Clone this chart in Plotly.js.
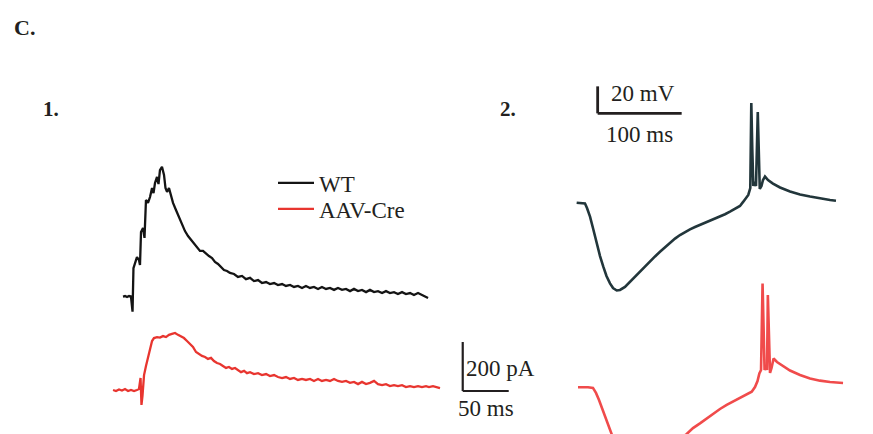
<!DOCTYPE html>
<html>
<head>
<meta charset="utf-8">
<script src="https://cdn.plot.ly/plotly-3.0.1.min.js"></script>
<style>html,body{margin:0;padding:0;background:#fff;}#chart{width:873px;height:434px;}</style>
</head>
<body>
<div id="chart"></div>
<script>
// ---------- Data ----------
// Panel 1: evoked currents, time in ms (0 = stimulus), current in pA (0 = baseline)
const wtCurrentT = [-10.9,-8.7,-6.5,-4.3,-2.2,-0.5,0.5,2.2,4.3,6.5,7.6,8.7,10.9,12.5,14.1,16.3,18.5,20.7,22.3,23.9,26.1,27.7,29.3,31.5,33.7,35.3,37.0,39.1,41.3,43.5,46.7,50.0,53.3,56.5,59.8,63.0,66.3,69.6,72.8,76.1,79.3,82.6,85.9,89.1,92.4,95.7,98.9,102.2,105.4,109.8,114.1,118.5,122.8,127.2,131.5,135.9,140.2,144.6,148.9,153.3,157.6,162.0,166.3,170.7,175.0,179.3,183.7,188.0,192.4,196.7,201.1,205.4,209.8,214.1,218.5,222.8,227.2,231.5,235.9,240.2,244.6,248.9,253.3,257.6,262.0,266.3,270.7,275.0,279.3,283.7,288.0,292.4,296.7,301.1,305.4,309.8,314.1,317.4,320.7];
const wtCurrentI = [2,4,0,4,2,-60,118,143,163,151,131,265,282,241,396,384,408,445,424,465,490,461,518,531,498,445,429,445,408,384,355,327,294,269,249,233,216,200,188,188,176,167,159,143,135,122,110,106,98,94,82,86,73,78,65,69,57,61,53,57,49,53,45,49,41,45,37,45,37,41,33,41,33,37,29,37,29,33,24,33,24,29,20,29,20,24,16,24,16,20,12,20,12,16,8,16,8,4,-4];

const creCurrentT = [-21.7,-18.5,-15.2,-12.0,-8.7,-5.4,-2.2,1.1,4.3,6.5,8.2,9.2,10.3,12.0,14.1,16.3,18.5,20.7,22.8,26.1,29.3,32.6,35.9,39.1,42.4,45.7,48.9,52.2,55.4,58.7,62.0,65.2,68.5,71.7,75.0,78.3,81.5,84.8,88.0,91.3,94.6,97.8,101.1,104.3,107.6,110.9,114.1,117.4,120.7,123.9,127.2,131.5,135.9,140.2,144.6,148.9,153.3,157.6,162.0,166.3,170.7,175.0,179.3,183.7,188.0,192.4,196.7,201.1,205.4,209.8,214.1,218.5,222.8,227.2,231.5,235.9,240.2,244.6,248.9,253.3,257.6,262.0,266.3,270.7,275.0,279.3,283.7,288.0,292.4,296.7,301.1,305.4,309.8,314.1,318.5,321.7,326.1,330.4,333.7];
const creCurrentI = [0,-4,2,-2,4,-4,0,-4,0,4,49,-61,-24,61,98,135,176,200,212,216,214,220,216,225,229,233,225,220,212,200,188,176,155,147,139,135,127,131,118,110,106,98,90,94,86,90,82,73,78,69,73,65,69,61,65,57,61,53,49,53,45,49,41,45,41,45,37,45,37,41,37,45,37,33,37,29,33,24,33,24,29,37,24,20,24,16,20,16,20,12,16,12,16,12,16,12,16,12,8];

// Panel 2: membrane potential, time in ms, voltage in mV
const wtVmT = [-0.4,4.8,9.5,11.9,15.5,19.0,23.5,27.4,31.3,35.1,39.3,42.9,47.3,51.2,57.1,63.1,69.0,75.0,81.0,86.9,92.9,98.8,104.8,110.7,116.7,122.6,128.6,134.5,140.5,146.4,152.4,158.3,164.3,170.2,176.2,182.1,190.1,194.0,198.0,201.2,203.9,206.3,207.5,208.7,209.9,211.3,213.1,215.2,216.4,217.6,219.6,221.4,223.8,227.4,233.3,241.7,253.6,265.5,277.4,289.3,301.2,308.3];
const wtVmV = [-59.8,-60.0,-60.4,-63.7,-70.1,-78.5,-89.9,-99.3,-107.2,-114.1,-119.5,-123.0,-124.8,-124.4,-122.2,-118.3,-114.4,-110.9,-107.2,-103.5,-99.6,-96.1,-92.6,-89.4,-86.4,-83.7,-81.5,-79.5,-77.8,-76.3,-74.7,-73.1,-71.6,-70.1,-68.3,-66.4,-63.9,-62.2,-59.0,-56.3,-54.0,-48.9,14.1,-20.7,-47.4,-44.4,-47.4,7.4,-28.1,-49.6,-47.4,-43.0,-40.4,-43.0,-45.6,-48.5,-51.5,-53.7,-55.2,-56.7,-57.8,-58.3];

const creVmT = [1.2,7.1,13.1,19.0,22.6,26.2,29.8,33.3,36.9,41.3,46.4,53.6,60.7,69.0,77.4,86.9,98.8,110.7,122.6,130.6,138.1,146.4,154.4,162.3,170.2,178.2,186.1,194.0,201.2,208.0,211.9,214.9,217.1,219.1,220.9,222.1,223.3,224.8,226.2,227.2,228.4,229.8,231.6,234.0,238.1,245.2,253.6,265.5,277.4,289.3,301.2,316.7];
const creVmV = [-60.2,-60.0,-60.2,-60.7,-64.4,-69.6,-75.6,-82.0,-88.1,-94.8,-103.7,-115.6,-124.4,-128.9,-128.1,-123.0,-114.8,-106.7,-98.5,-94.8,-90.4,-86.9,-83.2,-79.5,-76.3,-73.3,-70.7,-68.4,-65.9,-63.5,-60.0,-55.6,-49.9,-47.4,16.7,-17.8,-47.4,-44.4,-47.4,8.1,-25.2,-49.6,-45.9,-38.9,-41.5,-44.4,-47.8,-51.1,-53.7,-55.3,-56.3,-57.0];

const seriesNames = ["WT", "AAV-Cre"];
const scaleBar1 = {time: 50, current: 200, timeLabel: "50 ms", currentLabel: "200 pA"};
const scaleBar2 = {time: 100, voltage: 20, timeLabel: "100 ms", voltageLabel: "20 mV"};
const panelLabels = ["C.", "1.", "2."];

// ---------- Layout helpers ----------
const W = 873, H = 434;
const px = x => x / W;
const py = y => 1 - y / H;
const FONT = "Liberation Serif, Times New Roman, serif";
const INK = "#231f20";

const traces = [
  {x: wtCurrentT, y: wtCurrentI, xaxis: "x", yaxis: "y", type: "scatter", mode: "lines",
   name: seriesNames[0], legend: "legend", line: {color: "#141414", width: 2.3}, showlegend: true},
  {x: creCurrentT, y: creCurrentI, xaxis: "x", yaxis: "y3", type: "scatter", mode: "lines",
   name: seriesNames[1], legend: "legend2", line: {color: "#e8352f", width: 2.3}, showlegend: true},
  {x: wtVmT, y: wtVmV, xaxis: "x2", yaxis: "y2", type: "scatter", mode: "lines",
   name: seriesNames[0] + " Vm", line: {color: "#22363b", width: 2.6}, showlegend: false},
  {x: creVmT, y: creVmV, xaxis: "x2", yaxis: "y4", type: "scatter", mode: "lines",
   name: seriesNames[1] + " Vm", line: {color: "#f04b4b", width: 2.6}, showlegend: false}
];

const hidden = {visible: false, fixedrange: true, showgrid: false, zeroline: false};
// Corner positions of scale bars (data units)
const sb1 = {x: 358.4, y: -383.7};
const sb2 = {x: 24.6, y: 6.4};

const legendBase = {xanchor: "left", yanchor: "middle", bgcolor: "rgba(0,0,0,0)", borderwidth: 0,
                    itemwidth: 36, font: {family: FONT, size: 23, color: INK}};

const layout = {
  width: W, height: H,
  margin: {l: 0, r: 0, t: 0, b: 0},
  paper_bgcolor: "#ffffff", plot_bgcolor: "rgba(0,0,0,0)",
  font: {family: FONT, color: INK, size: 23},
  xaxis: Object.assign({domain: [0, 1], range: [-144.57, 804.35], anchor: "y"}, hidden),
  yaxis: Object.assign({domain: [0, 1], range: [-559.18, 1212.24], anchor: "x"}, hidden),
  yaxis3: Object.assign({domain: [0, 1], range: [-179.59, 1591.84], anchor: "x", overlaying: "y"}, hidden),
  xaxis2: Object.assign({domain: [0, 1], range: [-686.90, 352.38], anchor: "y2", overlaying: "x"}, hidden),
  yaxis2: Object.assign({domain: [0, 1], range: [-231.11, 90.37], anchor: "x2", overlaying: "y"}, hidden),
  yaxis4: Object.assign({domain: [0, 1], range: [-94.81, 226.67], anchor: "x2", overlaying: "y"}, hidden),
  showlegend: true,
  legend: Object.assign({x: px(273), y: py(183)}, legendBase),
  legend2: Object.assign({x: px(273), y: py(209)}, legendBase),
  shapes: [
    {type: "line", xref: "x", yref: "y", x0: sb1.x, x1: sb1.x, y0: sb1.y, y1: sb1.y + scaleBar1.current, line: {color: INK, width: 2.2}},
    {type: "line", xref: "x", yref: "y", x0: sb1.x, x1: sb1.x + scaleBar1.time, y0: sb1.y, y1: sb1.y, line: {color: INK, width: 2.2}},
    {type: "line", xref: "x2", yref: "y2", x0: sb2.x, x1: sb2.x, y0: sb2.y, y1: sb2.y + scaleBar2.voltage, line: {color: INK, width: 2.8}},
    {type: "line", xref: "x2", yref: "y2", x0: sb2.x, x1: sb2.x + scaleBar2.time, y0: sb2.y, y1: sb2.y, line: {color: INK, width: 2.8}}
  ],
  annotations: [
    {text: "<b>" + panelLabels[0] + "</b>", xref: "paper", yref: "paper", x: px(12), y: py(27), xanchor: "left", yanchor: "middle", showarrow: false, font: {size: 22}},
    {text: "<b>" + panelLabels[1] + "</b>", xref: "paper", yref: "paper", x: px(41), y: py(109), xanchor: "left", yanchor: "middle", showarrow: false, font: {size: 21}},
    {text: "<b>" + panelLabels[2] + "</b>", xref: "paper", yref: "paper", x: px(498), y: py(109), xanchor: "left", yanchor: "middle", showarrow: false, font: {size: 21}},
    {text: scaleBar1.currentLabel, xref: "paper", yref: "paper", x: px(464), y: py(368), xanchor: "left", yanchor: "middle", showarrow: false},
    {text: scaleBar1.timeLabel, xref: "paper", yref: "paper", x: px(456), y: py(408), xanchor: "left", yanchor: "middle", showarrow: false},
    {text: scaleBar2.voltageLabel, xref: "paper", yref: "paper", x: px(609), y: py(93), xanchor: "left", yanchor: "middle", showarrow: false},
    {text: scaleBar2.timeLabel, xref: "paper", yref: "paper", x: px(604), y: py(134), xanchor: "left", yanchor: "middle", showarrow: false}
  ]
};

Plotly.newPlot("chart", traces, layout, {displayModeBar: false, staticPlot: true});
</script>
</body>
</html>
